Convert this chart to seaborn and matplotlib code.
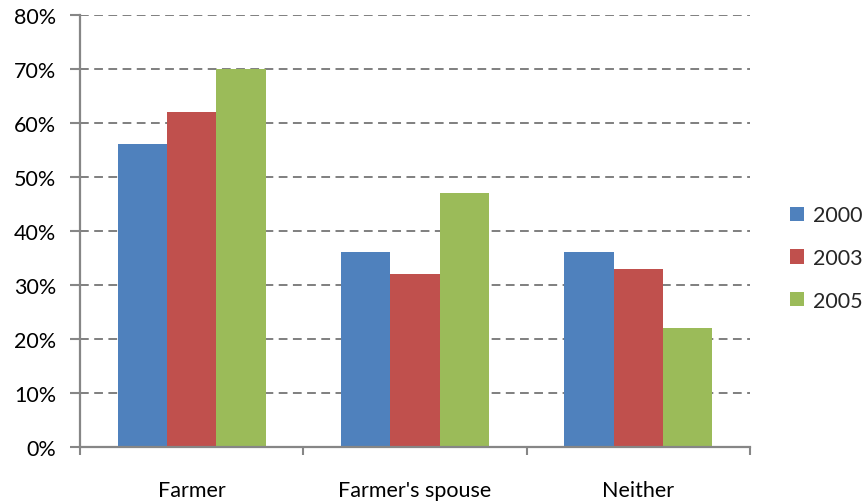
import matplotlib
matplotlib.use("Agg")
import matplotlib.pyplot as plt
import seaborn as sns
import pandas as pd
from matplotlib.ticker import PercentFormatter, MultipleLocator

categories = ["Farmer", "Farmer's spouse", "Neither"]
years = ["2000", "2003", "2005"]
values_2000 = [56, 36, 36]
values_2003 = [62, 32, 33]
values_2005 = [70, 47, 22]
colors = ["#4F81BD", "#C0504D", "#9BBB59"]

rows = []
for yr, vals in zip(years, [values_2000, values_2003, values_2005]):
    for c, v in zip(categories, vals):
        rows.append({"category": c, "year": yr, "value": v})
df = pd.DataFrame(rows)

sns.set_theme(style="white")
plt.rcParams['font.family'] = ['Lato', 'DejaVu Sans']
FS = 15.5

fig = plt.figure(figsize=(8.64, 5.02), dpi=100)
ax = fig.add_axes([80/864, 1-447.7/502, (750-80)/864, (447.7-15.7)/502])

sns.barplot(data=df, x="category", y="value", hue="year", order=categories,
            hue_order=years, palette=colors, width=0.663, saturation=1,
            edgecolor="none", linewidth=0, ax=ax, legend=True)

gray = "#868686"
ax.set_ylim(0, 80)
ax.set_xlim(-0.5, 2.5)
ax.yaxis.set_major_locator(MultipleLocator(10))
ax.yaxis.set_major_formatter(PercentFormatter(decimals=0))
ax.yaxis.grid(True, linestyle=(0, (4.5, 2.8)), color="#7f7f7f", linewidth=1.4)
ax.set_axisbelow(True)
for s in ["top", "right"]:
    ax.spines[s].set_visible(False)
for s in ["left", "bottom"]:
    ax.spines[s].set_color(gray)
    ax.spines[s].set_linewidth(1.6)

ax.set_xticks([-0.5, 0.5, 1.5, 2.5], minor=False)
ax.set_xticklabels([])
ax.set_xticks([0, 1, 2], minor=True)
ax.set_xticklabels(categories, minor=True)
ax.tick_params(axis="x", which="major", direction="out", length=6, width=1.5, color=gray, bottom=True)
ax.tick_params(axis="x", which="minor", length=0, pad=24, labelsize=FS, labelcolor="black")
ax.tick_params(axis="y", direction="out", length=7, width=1.5, color=gray, left=True,
               pad=10, labelsize=FS, labelcolor="black")
ax.set_xlabel("")
ax.set_ylabel("")

handles, labels = ax.get_legend_handles_labels()
ax.legend(handles, labels, loc="center left", bbox_to_anchor=(790/864, 1-259/502),
          bbox_transform=fig.transFigure, frameon=False, fontsize=FS,
          handlelength=0.65, handleheight=0.65, handletextpad=0.4,
          labelspacing=1.05, borderpad=0, borderaxespad=0)

fig.savefig("out.png", dpi=100)
